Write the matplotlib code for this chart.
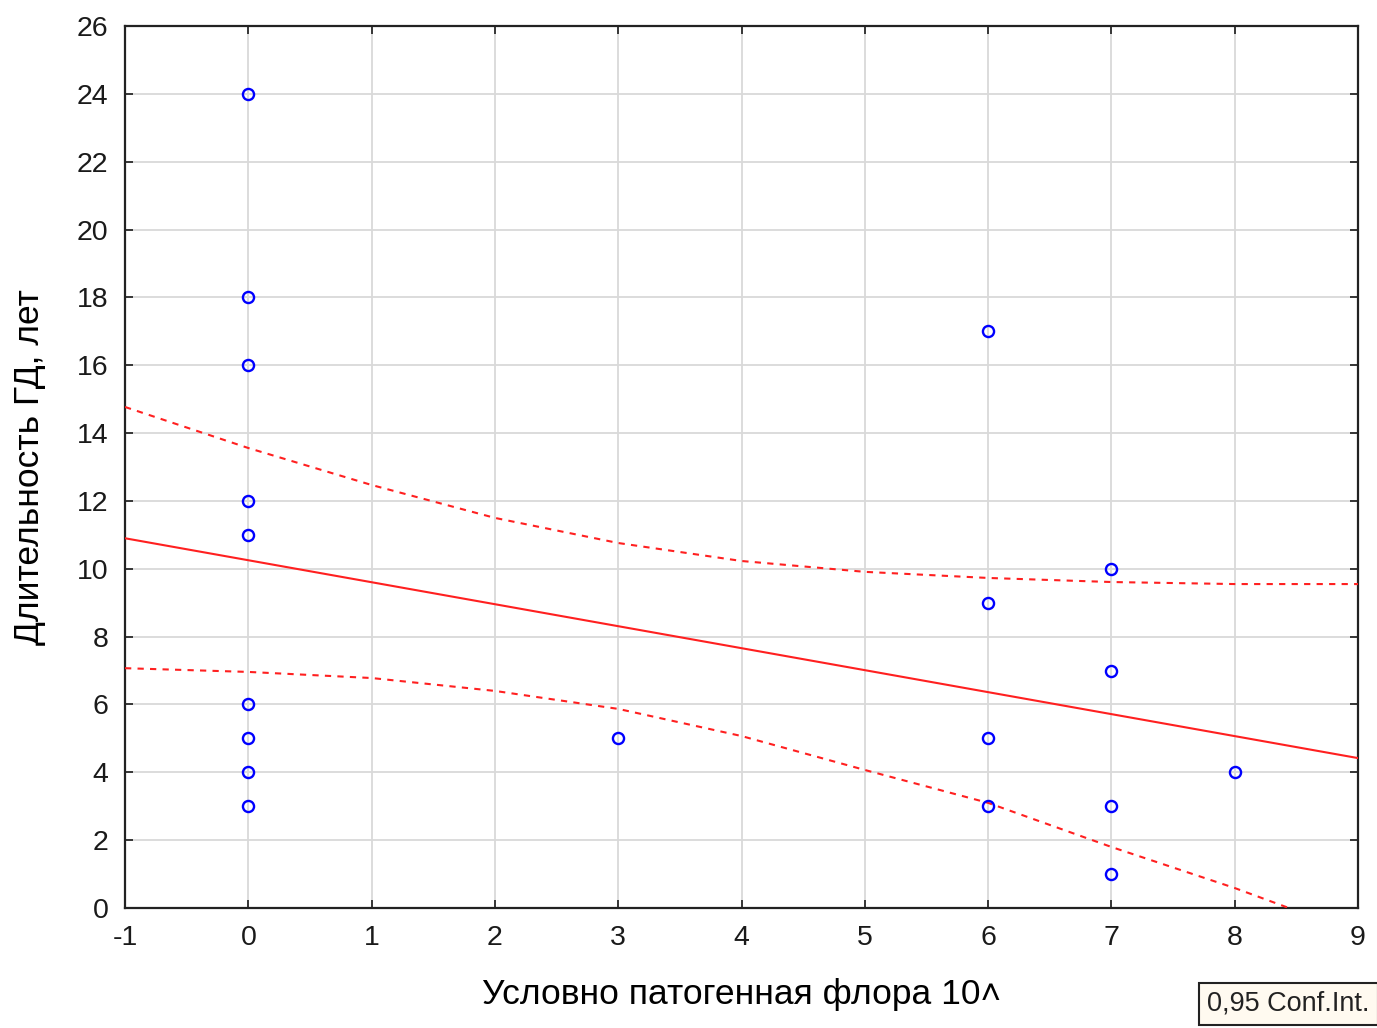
import numpy as np
import matplotlib.pyplot as plt

plt.rcParams['font.family'] = ['Liberation Sans', 'DejaVu Sans']
plt.rcParams['axes.unicode_minus'] = False

# observed points
flora_x = [0, 0, 0, 0, 0, 0, 0, 0, 0, 3, 6, 6, 6, 6, 7, 7, 7, 7, 8]
gd_years = [24, 18, 16, 12, 11, 6, 5, 4, 3, 5, 17, 9, 5, 3, 10, 7, 3, 1, 4]

# regression line
fit_x = [-1, 9]
fit_y = [10.9, 4.42]

# 0,95 confidence band
band_x = [-1, 0, 1, 2, 3, 4, 5, 6, 7, 8, 9]
band_upper = [14.77, 13.56, 12.47, 11.5, 10.76, 10.23, 9.91, 9.73, 9.61, 9.55, 9.55]
band_lower = [7.07, 6.96, 6.78, 6.4, 5.87, 5.07, 4.07, 3.1, 1.8, 0.59, -0.75]

x_ticks = [-1, 0, 1, 2, 3, 4, 5, 6, 7, 8, 9]
y_ticks = list(range(0, 27, 2))

fig = plt.figure(figsize=(13.77, 10.28), dpi=100)
ax = fig.add_axes([0.0908, 0.1167, 0.8954, 0.858])

ax.grid(True, color="#d9d9d9", linewidth=1.3, zorder=0)
ax.plot(fit_x, fit_y, "-", color="#ff2020", linewidth=1.5, zorder=3)
ax.plot(band_x, band_upper, color="#ff2020", linewidth=1.5, linestyle=(0, (3, 3)), zorder=3)
ax.plot(band_x, band_lower, color="#ff2020", linewidth=1.5, linestyle=(0, (3, 3)), zorder=3)
ax.plot(flora_x, gd_years, "o", markerfacecolor="none", markeredgecolor="#0000ff",
        markersize=8, markeredgewidth=1.7, zorder=4)

ax.set_xlim(-1, 9)
ax.set_ylim(0, 26)
ax.set_xticks(x_ticks)
ax.set_yticks(y_ticks)
ax.tick_params(direction="in", length=6, width=1.2, top=True, right=True,
               labelsize=20.5, colors="#1a1a1a")
ax.tick_params(axis="x", pad=12)
ax.tick_params(axis="y", pad=12)
for s in ax.spines.values():
    s.set_linewidth(1.6)
    s.set_color("#222222")

ax.set_xlabel("Условно патогенная флора 10˄", fontsize=25.5, labelpad=20)
ax.set_ylabel("Длительность ГД, лет", fontsize=25.5, labelpad=22)

fig.text(0.8765, 0.036, "0,95 Conf.Int.", fontsize=19.5, color="#222222", va="top",
         bbox=dict(boxstyle="square,pad=0.3", facecolor="#fffaf0", edgecolor="#222222", linewidth=1.5))

plt.savefig("out.png", dpi=100)
